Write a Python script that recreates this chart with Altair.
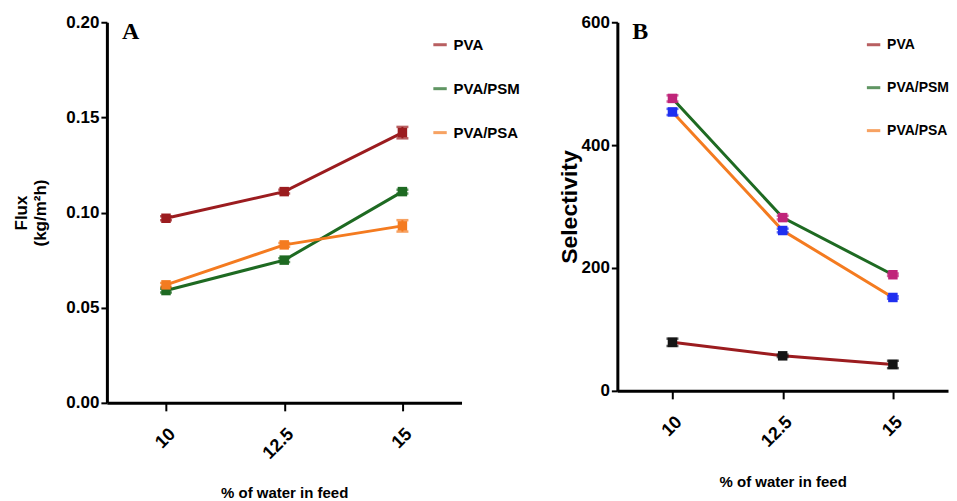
import altair as alt
import pandas as pd

water = ["10", "12.5", "15"]
series = ["PVA", "PVA/PSM", "PVA/PSA"]
line_colors = ["#9b1c1f", "#1e6a22", "#f47b20"]
marker_colors_b = ["#151515", "#c0257a", "#1f2ff0"]

flux_pva = [0.097, 0.111, 0.142]
flux_psm = [0.059, 0.075, 0.111]
flux_psa = [0.062, 0.083, 0.093]
flux_err_pva = [0.001, 0.001, 0.003]
flux_err_psm = [0.001, 0.001, 0.001]
flux_err_psa = [0.001, 0.001, 0.003]

sel_pva = [79, 57, 43]
sel_psm = [476, 282, 189]
sel_psa = [454, 261, 152]
sel_err_pva = [6, 2, 6]
sel_err_psm = [5, 3, 2]
sel_err_psa = [5, 3, 2]


def make_df(vals, errs, mcolors):
    rows = []
    for s, v, e, mc in zip(series, vals, errs, mcolors):
        for w, vi, ei in zip(water, v, e):
            rows.append({"water": w, "series": s, "value": vi,
                         "lo": vi - ei, "hi": vi + ei, "mcolor": mc})
    return pd.DataFrame(rows)


df_a = make_df([flux_pva, flux_psm, flux_psa],
               [flux_err_pva, flux_err_psm, flux_err_psa], line_colors)
df_b = make_df([sel_pva, sel_psm, sel_psa],
               [sel_err_pva, sel_err_psm, sel_err_psa], marker_colors_b)

SANS = "Liberation Sans, Arial"


def panel(df, ydomain, yvalues, yfmt, ytitle, ytitle_size, ytitle_pad,
          label, w, h, legend_x, legend_y, xtitle_pad, legend_fs):
    x = alt.X("water:O",
              scale=alt.Scale(type="point", padding=0.5, domain=water),
              axis=alt.Axis(title="% of water in feed", labelAngle=-45,
                            titleFont=SANS, titleFontSize=15,
                            titleFontWeight="bold", titlePadding=xtitle_pad,
                            labelFont=SANS, labelFontSize=18,
                            labelFontWeight="bold", labelPadding=14,
                            tickSize=8))
    y = alt.Y("value:Q",
              scale=alt.Scale(domain=ydomain, nice=False, zero=True),
              axis=alt.Axis(title=ytitle, values=yvalues, format=yfmt,
                            titleFont=SANS, titleFontSize=ytitle_size,
                            titleFontWeight="bold", titlePadding=ytitle_pad,
                            labelFont=SANS, labelFontSize=17,
                            labelFontWeight="bold", labelPadding=2))
    base = alt.Chart(df)
    line = base.mark_line(strokeWidth=3).encode(
        x=x, y=y,
        color=alt.Color("series:N",
                        scale=alt.Scale(domain=series, range=line_colors),
                        legend=alt.Legend(title=None, orient="none",
                                          legendX=legend_x, legendY=legend_y,
                                          symbolType="stroke",
                                          symbolSize=180,
                                          symbolStrokeWidth=3,
                                          labelFont=SANS,
                                          labelFontSize=legend_fs,
                                          labelFontWeight="bold",
                                          labelColor="black",
                                          rowPadding=27, labelOffset=5)))
    rule = base.mark_rule(strokeWidth=2).encode(
        x=alt.X("water:O"), y=alt.Y("lo:Q"), y2="hi:Q",
        color=alt.Color("mcolor:N", scale=None))
    cap_lo = base.mark_tick(size=12, thickness=2.5).encode(
        x=alt.X("water:O"), y=alt.Y("lo:Q"),
        color=alt.Color("mcolor:N", scale=None))
    cap_hi = base.mark_tick(size=12, thickness=2.5).encode(
        x=alt.X("water:O"), y=alt.Y("hi:Q"),
        color=alt.Color("mcolor:N", scale=None))
    pts = base.mark_point(shape="square", filled=True, size=90,
                          opacity=1).encode(
        x=alt.X("water:O"), y=alt.Y("value:Q"),
        color=alt.Color("mcolor:N", scale=None))
    lab = alt.Chart(pd.DataFrame({"t": [label]})).mark_text(
        font="Liberation Serif", fontSize=24, fontWeight="bold",
        align="left", baseline="top", color="black").encode(
        x=alt.value(15), y=alt.value(-2), text="t:N")
    return alt.layer(line, rule, cap_lo, cap_hi, pts, lab).properties(
        width=w, height=h)


chart_a = panel(df_a, [0, 0.2], [0, 0.05, 0.10, 0.15, 0.20], ".2f",
                ["Flux", "(kg/m²h)"], 17, 16, "A", 355, 381, 325, 14, 23,
                15)
chart_b = panel(df_b, [0, 600], [0, 200, 400, 600], "d",
                "Selectivity", 23, 0, "B", 331, 369, 248, 14, 24, 14)

chart = alt.hconcat(chart_a, chart_b, spacing=37).resolve_scale(
    color="independent", x="independent", y="independent"
).properties(padding={"left": 4, "top": 5, "right": 0, "bottom": 0}
).configure_view(stroke=None).configure_axis(
    domainColor="black", domainWidth=3, tickColor="black", tickWidth=2,
    tickSize=6, labelColor="black", titleColor="black", grid=False)

chart.save("out.html", embed_options={"renderer": "svg", "actions": False})
